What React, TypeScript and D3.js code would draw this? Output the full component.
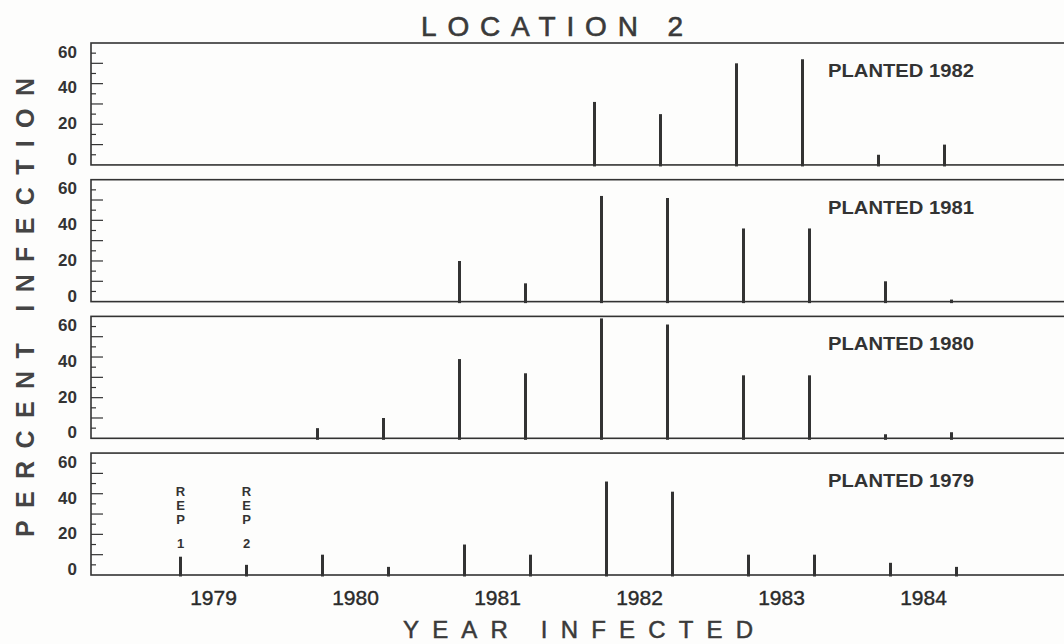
import React, { useRef, useEffect } from 'react';
import * as d3 from 'd3';

// infection years on the x axis, two reps per year
const infectionYears = [1979, 1980, 1981, 1982, 1983, 1984];
const reps = ['REP 1', 'REP 2'];
const plantedYears = [1982, 1981, 1980, 1979];
const yTickLabels = [0, 20, 40, 60];

// percent infection by infection year (null = no observation)
const planted1982Rep1 = [null, null, null, 31, 50, 5];
const planted1982Rep2 = [null, null, null, 25, 52, 10];
const planted1981Rep1 = [null, null, 20, 52, 36, 10];
const planted1981Rep2 = [null, null, 9, 51, 36, 1];
const planted1980Rep1 = [null, 5, 39, 59, 31, 2];
const planted1980Rep2 = [null, 10, 32, 56, 31, 3];
const planted1979Rep1 = [9, 10, 15, 46, 10, 6];
const planted1979Rep2 = [5, 4, 10, 41, 10, 4];

const seriesByPlanting: Record<number, (number | null)[][]> = {
  1982: [planted1982Rep1, planted1982Rep2],
  1981: [planted1981Rep1, planted1981Rep2],
  1980: [planted1980Rep1, planted1980Rep2],
  1979: [planted1979Rep1, planted1979Rep2],
};

const W = 1064;
const H = 644;

const LocationChart = () => {
  const svgRef = useRef<SVGSVGElement>(null);

  useEffect(() => {
    const svg = d3.select(svgRef.current);
    svg.selectAll('*').remove();

    const ink = '#333';
    const font = '"Liberation Sans", Arial, Helvetica, sans-serif';
    const left = 91;
    const right = 1072; // panels run off the right edge
    // the scanned panels are not quite aligned, upper ones sit a little left
    const panelShift = [-12, -5, -5, 0];

    const panelScale = d3.scaleBand<number>()
      .domain(plantedYears)
      .range([43, 575])
      .paddingInner(0.108);

    const x = d3.scaleLinear().domain([1979, 1984]).range([213.5, 923.5]);
    const repOffset = d3.scalePoint<string>().domain(reps).range([-33, 33]);

    svg.append('rect').attr('width', W).attr('height', H).attr('fill', '#fdfdfc');

    // title
    svg.append('text')
      .attr('x', 552).attr('y', 36)
      .attr('text-anchor', 'middle')
      .attr('font-family', font).attr('font-size', 28)
      .attr('textLength', 262).attr('lengthAdjust', 'spacing')
      .attr('fill', '#3a3a3a').attr('stroke', '#3a3a3a').attr('stroke-width', 0.6)
      .text('LOCATION 2');

    plantedYears.forEach((py, i) => {
      const y0 = panelScale(py)!;
      const h = panelScale.bandwidth();
      const y = d3.scaleLinear().domain([0, 60]).range([y0 + h, y0]);
      // tick labels were lettered a bit inside the ends of the axis
      const labelY = y.copy().range([y0 + h - 6, y0 + 8.5]);

      const g = svg.append('g');

      g.append('rect')
        .attr('x', left).attr('y', y0)
        .attr('width', right - left).attr('height', h)
        .attr('fill', 'none').attr('stroke', ink).attr('stroke-width', 1.6);

      // minor ticks every 5, longer every 10
      g.selectAll('.ytick')
        .data(d3.range(5, 60, 5))
        .join('line')
        .attr('class', 'ytick')
        .attr('x1', left)
        .attr('x2', d => left + (d % 10 === 0 ? 12 : 5))
        .attr('y1', d => y(d)).attr('y2', d => y(d))
        .attr('stroke', ink).attr('stroke-width', 1.2);

      g.selectAll('.ylabel')
        .data(yTickLabels)
        .join('text')
        .attr('class', 'ylabel')
        .attr('x', 77)
        .attr('y', d => labelY(d))
        .attr('dy', '0.36em')
        .attr('text-anchor', 'end')
        .attr('font-family', font).attr('font-size', 17).attr('font-weight', 'bold')
        .attr('fill', ink)
        .text(d => d);

      // bars
      const series = seriesByPlanting[py];
      const pts = reps.flatMap((rep, r) =>
        infectionYears.map((yr, k) => ({ rep, yr, v: series[r][k] }))
      ).filter(d => d.v != null) as { rep: string; yr: number; v: number }[];

      g.selectAll('.bar')
        .data(pts)
        .join('line')
        .attr('class', 'bar')
        .attr('x1', d => x(d.yr) + repOffset(d.rep)! + panelShift[i])
        .attr('x2', d => x(d.yr) + repOffset(d.rep)! + panelShift[i])
        .attr('y1', y(0) + 1.5)
        .attr('y2', d => y(d.v))
        .attr('stroke', ink).attr('stroke-width', 3);

      g.append('text')
        .attr('x', 828).attr('y', y0 + 34)
        .attr('font-family', font).attr('font-size', 18).attr('font-weight', 'bold')
        .attr('textLength', 146).attr('lengthAdjust', 'spacingAndGlyphs')
        .attr('fill', ink)
        .text(`PLANTED ${py}`);

      // rep markers in the bottom panel
      if (i === plantedYears.length - 1) {
        reps.forEach(rep => {
          const cx = x(1979) + repOffset(rep)! + panelShift[i];
          let cy = y0 + 43;
          rep.split('').forEach(ch => {
            if (ch === ' ') { cy += 10; return; }
            g.append('text')
              .attr('x', cx).attr('y', cy)
              .attr('text-anchor', 'middle')
              .attr('font-family', font).attr('font-size', 13).attr('font-weight', 'bold')
              .attr('fill', ink)
              .text(ch);
            cy += 14;
          });
        });
      }
    });

    // x labels
    svg.append('g')
      .selectAll('text')
      .data(infectionYears)
      .join('text')
      .attr('x', d => x(d))
      .attr('y', 605)
      .attr('text-anchor', 'middle')
      .attr('font-family', font).attr('font-size', 21)
      .attr('fill', '#2a2a2a').attr('stroke', '#2a2a2a').attr('stroke-width', 0.4)
      .text(d => d);

    svg.append('text')
      .attr('x', 578).attr('y', 638)
      .attr('text-anchor', 'middle')
      .attr('font-family', font).attr('font-size', 24)
      .attr('textLength', 350).attr('lengthAdjust', 'spacing')
      .attr('fill', '#3a3a3a').attr('stroke', '#3a3a3a').attr('stroke-width', 0.5)
      .text('YEAR INFECTED');

    svg.append('text')
      .attr('transform', 'translate(33.5,307.5) rotate(-90)')
      .attr('text-anchor', 'middle')
      .attr('font-family', font).attr('font-size', 25).attr('font-weight', 'bold')
      .attr('textLength', 459).attr('lengthAdjust', 'spacing')
      .attr('fill', '#444')
      .text('PERCENT INFECTION');
  }, []);

  return (
    <svg
      ref={svgRef}
      width={W}
      height={H}
      style={{ position: 'absolute', left: 0, top: 0, display: 'block' }}
    />
  );
};

export default function App() {
  return <LocationChart />;
}
